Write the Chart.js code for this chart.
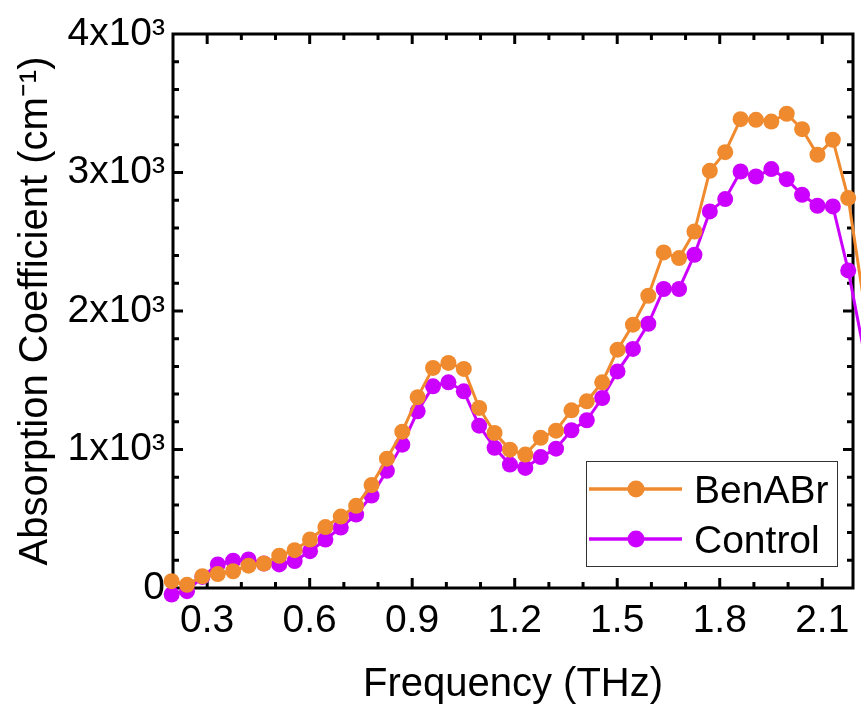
<!DOCTYPE html>
<html>
<head>
<meta charset="utf-8">
<script src="https://cdn.jsdelivr.net/npm/chart.js@4.4.1/dist/chart.umd.min.js"></script>
<style>
html, body { margin: 0; padding: 0; background: #fff; }
</style>
</head>
<body>
<canvas id="absChart" width="861" height="711"></canvas>
<script>
// frequency (THz)
var freq = [0.196, 0.241, 0.286, 0.331, 0.376, 0.421, 0.466, 0.511, 0.556, 0.601,
            0.646, 0.691, 0.736, 0.781, 0.826, 0.871, 0.916, 0.961, 1.006, 1.051,
            1.096, 1.141, 1.186, 1.231, 1.276, 1.321, 1.366, 1.411, 1.456, 1.501,
            1.546, 1.591, 1.636, 1.681, 1.726, 1.771, 1.816, 1.861, 1.906, 1.951,
            1.996, 2.041, 2.086, 2.131, 2.176, 2.221];
// absorption coefficient (cm-1)
var benABr = [49, 23, 85, 101, 121, 161, 177, 233, 273, 350,
              440, 516, 593, 743, 934, 1129, 1378, 1589, 1625, 1582,
              1300, 1120, 999, 963, 1084, 1136, 1283, 1348, 1485, 1721,
              1901, 2110, 2423, 2382, 2574, 3012, 3147, 3385, 3380, 3368,
              3424, 3313, 3128, 3236, 2815, 2080];
var control = [-47, -23, 80, 170, 197, 206, 177, 170, 195, 266,
               350, 437, 530, 667, 846, 1035, 1276, 1456, 1485, 1420,
               1172, 1012, 891, 867, 945, 1006, 1139, 1211, 1372, 1564,
               1726, 1908, 2159, 2159, 2406, 2719, 2808, 3007, 2971, 3025,
               2952, 2839, 2760, 2755, 2293, 1720];

var xTicks = [0.3, 0.6, 0.9, 1.2, 1.5, 1.8, 2.1];
var yTicks = [0, 1000, 2000, 3000, 4000];
var yTickLabels = ['0', '1x10³', '2x10³', '3x10³', '4x10³'];

var ORANGE = '#F08A2E';
var PURPLE = '#CC00FF';
var FONT = "'Liberation Sans', Arial, sans-serif";

function pts(ys) {
    return freq.map(function (x, i) { return { x: x, y: ys[i] }; });
}

// box + inward ticks on all four sides
var framePlugin = {
    id: 'frame',
    beforeDatasetsDraw: function (chart) {
        var ctx = chart.ctx, a = chart.chartArea;
        var sx = chart.scales.x, sy = chart.scales.y;
        ctx.save();
        ctx.strokeStyle = '#000';
        ctx.lineWidth = 3;
        ctx.strokeRect(a.left, a.top, a.right - a.left, a.bottom - a.top);
        ctx.lineCap = 'butt';
        // x ticks
        for (var k = 3; k <= 21; k++) {
            var v = k / 10;
            var px = sx.getPixelForValue(v);
            if (px < a.left + 2 || px > a.right - 2) continue;
            var len = (k % 3 === 0) ? 10 : 6;
            ctx.beginPath();
            ctx.moveTo(px, a.bottom); ctx.lineTo(px, a.bottom - len);
            ctx.moveTo(px, a.top); ctx.lineTo(px, a.top + len);
            ctx.stroke();
        }
        // y ticks
        for (var j = 1; j < 20; j++) {
            var py = sy.getPixelForValue(j * 200);
            var l2 = (j % 5 === 0) ? 10 : 6;
            ctx.beginPath();
            ctx.moveTo(a.left, py); ctx.lineTo(a.left + l2, py);
            ctx.moveTo(a.right, py); ctx.lineTo(a.right - l2, py);
            ctx.stroke();
        }
        ctx.restore();
    }
};

var legendPlugin = {
    id: 'boxLegend',
    afterDraw: function (chart) {
        var ctx = chart.ctx, a = chart.chartArea;
        var bx = a.right - 267, by = a.bottom - 127, bw = 251, bh = 105;
        ctx.save();
        ctx.strokeStyle = '#333';
        ctx.lineWidth = 1;
        ctx.strokeRect(bx + 0.5, by + 0.5, bw, bh);
        chart.data.datasets.forEach(function (ds, i) {
            var ly = by + 28 + i * 50;
            ctx.strokeStyle = ds.borderColor;
            ctx.lineWidth = 3.5;
            ctx.beginPath();
            ctx.moveTo(bx + 3, ly); ctx.lineTo(bx + 96, ly);
            ctx.stroke();
            ctx.fillStyle = ds.borderColor;
            ctx.beginPath();
            ctx.arc(bx + 50, ly, 8.5, 0, Math.PI * 2);
            ctx.fill();
            ctx.fillStyle = '#000';
            ctx.font = '39px ' + FONT;
            ctx.textBaseline = 'alphabetic';
            ctx.fillText(ds.label, bx + 108, ly + 13.5);
        });
        ctx.restore();
    }
};

var ctx = document.getElementById('absChart').getContext('2d');
var absChart = new Chart(ctx, {
    type: 'line',
    data: {
        datasets: [{
            label: 'BenABr',
            data: pts(benABr),
            borderColor: ORANGE,
            backgroundColor: ORANGE,
            borderWidth: 3,
            pointRadius: 8,
            pointHoverRadius: 8,
            pointBorderWidth: 0,
            tension: 0,
            clip: false
        }, {
            label: 'Control',
            data: pts(control),
            borderColor: PURPLE,
            backgroundColor: PURPLE,
            borderWidth: 3,
            pointRadius: 8,
            pointHoverRadius: 8,
            pointBorderWidth: 0,
            tension: 0,
            clip: false
        }]
    },
    options: {
        responsive: false,
        animation: false,
        devicePixelRatio: 1,
        layout: { padding: { left: 0, right: 2, top: 34, bottom: 0 } },
        plugins: { legend: { display: false }, tooltip: { enabled: false } },
        scales: {
            x: {
                type: 'linear',
                min: 0.2,
                max: 2.19,
                afterBuildTicks: function (s) { s.ticks = xTicks.map(function (v) { return { value: v }; }); },
                afterFit: function (s) { s.height = 123; },
                grid: { display: false, drawTicks: false },
                border: { display: false },
                ticks: {
                    color: '#000',
                    font: { family: FONT, size: 39 },
                    padding: 10,
                    maxRotation: 0,
                    autoSkip: false,
                    callback: function (v) { return v.toFixed(1); }
                },
                title: {
                    display: true,
                    text: 'Frequency (THz)',
                    color: '#000',
                    font: { family: FONT, size: 40 },
                    padding: { top: 0, bottom: 2 }
                }
            },
            y: {
                min: 0,
                max: 4000,
                afterBuildTicks: function (s) { s.ticks = yTicks.map(function (v) { return { value: v }; }); },
                afterFit: function (s) { s.width = 173; },
                grid: { display: false, drawTicks: false },
                border: { display: false },
                ticks: {
                    color: '#000',
                    font: { family: FONT, size: 39 },
                    padding: 8,
                    callback: function (v) { return yTickLabels[yTicks.indexOf(v)]; }
                },
                title: {
                    display: true,
                    text: 'Absorption Coefficient (cm⁻¹)',
                    color: '#000',
                    font: { family: FONT, size: 40 },
                    padding: { top: 12, bottom: 0 }
                }
            }
        }
    },
    plugins: [framePlugin, legendPlugin]
});
</script>
</body>
</html>
